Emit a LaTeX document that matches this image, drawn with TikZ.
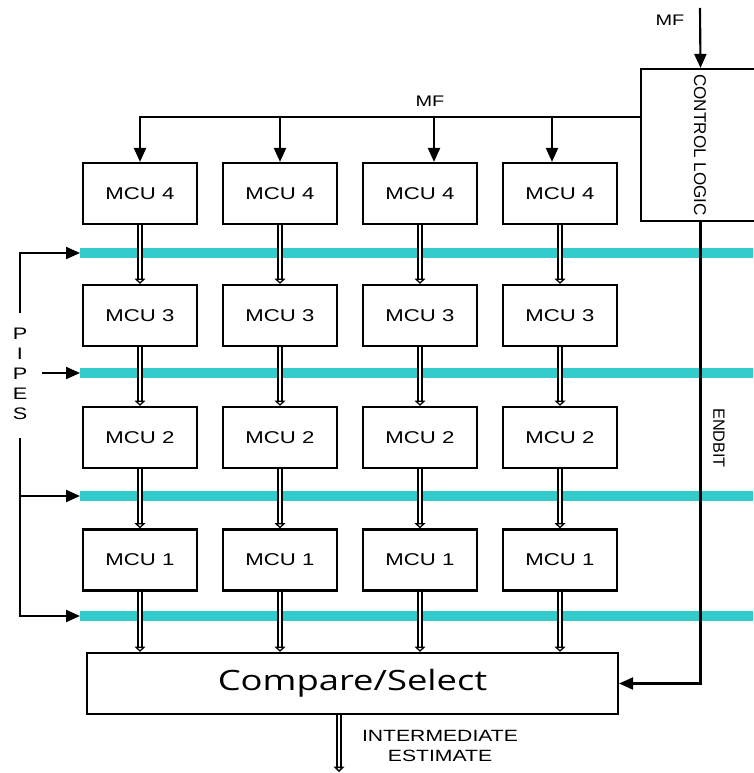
\documentclass[tikz,border=0pt]{standalone}
\usepackage{fontspec}
\usetikzlibrary{arrows.meta}
\setmainfont{Liberation Sans}
\newfontfamily\lblfont[FakeStretch=1.3]{Liberation Sans}
\newfontfamily\csfont[FakeStretch=1.3]{Open Sans}
\definecolor{pipecol}{RGB}{51,204,204}

\begin{document}
\begin{tikzpicture}[x=0.75pt,y=-0.75pt,
			mcu/.style={draw,line width=1.6pt,minimum width=85.5pt,minimum height=45.75pt,inner sep=0pt,font=\lblfont\fontsize{12.8}{14}\selectfont},
			pipebar/.style={fill=pipecol,minimum width=504.75pt,minimum height=7.5pt,inner sep=0pt,anchor=west},
			sig/.style={line width=1.6pt,-{Triangle[length=10.5pt,width=9pt]}},
			bus/.style={double,line width=1.4pt,double distance=1.8pt,-{Triangle[open,length=4pt,width=8pt]}},
			lbl/.style={font=\lblfont\fontsize{11.5}{15}\selectfont,inner sep=0pt}]
			
			\useasboundingbox (0,0) rectangle (753,773);
			
			% Pipeline registers between the stages
			\foreach \i/\y in {4/253,3/373,2/496,1/616}{
				\node[pipebar] (bar\i) at (80,\y) {};
			}
			
			% MCU array: four columns, four stages each
			\foreach \c/\x in {1/140,2/280,3/420,4/560}{
				\foreach \r/\y in {4/193.5,3/315.5,2/437.5,1/560}{
					\node[mcu] (m\r\c) at (\x,\y) {MCU \r};
				}
			}
			
			% Control logic and compare/select
			\node[draw,line width=1.6pt,minimum width=89.25pt,minimum height=114pt,inner sep=0pt] (ctl) at (700.5,145) {};
			\node[rotate=-90,font=\fontsize{12.8}{14}\selectfont] (ctltxt) at (700,145) {CONTROL LOGIC};
			\node[draw,line width=1.6pt,minimum width=398.25pt,minimum height=45.75pt,inner sep=0pt,font=\csfont\fontsize{21}{24}\selectfont] (cs) at (352.5,683.5) {Compare/Select};
			
			% Stage to stage data paths
			\foreach \c in {1,2,3,4}{
				\draw[bus] (m4\c.south) -- (m3\c.north);
				\draw[bus] (m3\c.south) -- (m2\c.north);
				\draw[bus] (m2\c.south) -- (m1\c.north);
				\draw[bus] (m1\c.south) -- (m1\c.south |- cs.north);
			}
			
			% Output of compare/select
			\coordinate (out) at (339,772);
			\draw[bus] (cs.south -| out) -- (out);
			\node[lbl,align=center,font=\lblfont\fontsize{12.2}{14.5}\selectfont] (est) at (440,746) {INTERMEDIATE\\ESTIMATE};
			
			% MF into the control logic
			\coordinate (mfin) at (700,8);
			\draw[sig] (mfin) -- (ctl.north);
			\node[lbl] (mf1) at (670,20) {MF};
			
			% MF bus to the top stage
			\coordinate (tap) at (0,117);
			\coordinate (tap2) at (280,117);
			\coordinate (tap3) at (434,117);
			\coordinate (tap4) at (552,117);
			\draw[sig] (ctl.west |- tap) -| (m41.north);
			\foreach \c in {2,3,4}{
				\draw[sig] (tap\c) -- (tap\c |- m4\c.north);
			}
			\node[lbl] (mf2) at (430,101) {MF};
			
			% ENDBIT back to compare/select
			\draw[sig] (ctl.south) |- (cs.east);
			\node[rotate=-90,font=\fontsize{12.2}{14}\selectfont] (endbit) at (719,438) {ENDBIT};
			
			% PIPES clock lines
			\node[lbl,align=center,font=\lblfont\fontsize{12.5}{15}\selectfont] (pipes) at (20,374) {P\\I\\P\\E\\S};
			\coordinate (ptop) at (20,313);
			\coordinate (pbot) at (20,438);
			\coordinate (pmid) at (20,496);
			\coordinate (pp) at (42,373);
			\draw[sig] (ptop) |- (bar4.west);
			\draw[sig] (pbot) |- (bar1.west);
			\draw[sig] (pmid) -- (bar2.west);
			\draw[sig] (pp) -- (bar3.west);
			
		\end{tikzpicture}
\end{document}
